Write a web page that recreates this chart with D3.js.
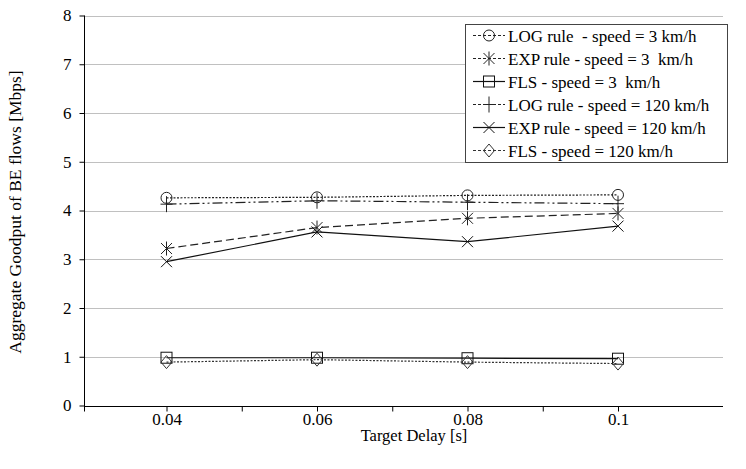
<!DOCTYPE html>
<html>
<head>
<meta charset="utf-8">
<title>Aggregate Goodput of BE flows</title>
<script src="https://cdn.jsdelivr.net/npm/d3@7"></script>
<style>
  body { margin: 0; background: #fff; }
  text { font-family: "Liberation Serif", "Times New Roman", serif; fill: #000; }
  .grid line { stroke: #c0c0c0; stroke-width: 1px; }
  .axis path, .axis line { stroke: #000; }
  .series { fill: none; }
</style>
</head>
<body>
<script>

// data
var delays = [0.04, 0.06, 0.08, 0.1];
var yTicks = [0, 1, 2, 3, 4, 5, 6, 7, 8];
var xTicks = [0.04, 0.05, 0.06, 0.07, 0.08, 0.09, 0.1];
var xLabels = [0.04, 0.06, 0.08, 0.1];

var logSlow = [4.26, 4.27, 4.31, 4.32];
var expSlow = [3.22, 3.65, 3.84, 3.94];
var flsSlow = [0.98, 0.98, 0.97, 0.96];
var logFast = [4.13, 4.2, 4.17, 4.14];
var expFast = [2.95, 3.56, 3.36, 3.68];
var flsFast = [0.89, 0.94, 0.89, 0.86];

var seriesNames = [
  "LOG rule  - speed = 3 km/h",
  "EXP rule - speed = 3  km/h",
  "FLS - speed = 3  km/h",
  "LOG rule - speed = 120 km/h",
  "EXP rule - speed = 120 km/h",
  "FLS - speed = 120 km/h"
];
var seriesValues = [logSlow, expSlow, flsSlow, logFast, expFast, flsFast];
var seriesMarks = ["circle", "asterisk", "square", "plus", "cross", "diamond"];
var seriesDash = ["2,1.5", "8,4", null, "10,3,2,3,2,3", null, "2,1.5"];
var seriesColor = ["#222", "#222", "#111", "#222", "#111", "#333"];

var width = 746, height = 469;
var plotL = 84, plotR = 723, plotT = 15.5, plotB = 405.5;

var svg = d3.select("body").append("svg")
    .attr("width", width)
    .attr("height", height);

var x = d3.scaleLinear().domain([0.04, 0.1]).range([166.5, 618]);
var y = d3.scaleLinear().domain([0, 8]).range([plotB, plotT]);

// horizontal grid
svg.append("g").attr("class", "grid")
  .selectAll("line")
  .data(yTicks.filter(function(d) { return d > 0; }))
  .join("line")
    .attr("x1", plotL).attr("x2", plotR)
    .attr("y1", function(d) { return Math.round(y(d)) + 0.5; })
    .attr("y2", function(d) { return Math.round(y(d)) + 0.5; });

// y axis
var yAxis = svg.append("g").attr("class", "axis")
    .attr("transform", "translate(" + (plotL + 0.5) + ",0)")
    .call(d3.axisLeft(y).tickValues(yTicks).tickSize(5).tickPadding(8).tickFormat(d3.format("d")));
yAxis.select(".domain").attr("d", "M0," + y(8) + "V" + (plotB + 6));
yAxis.selectAll("text").style("font-size", "17px");

// x axis
var xAxis = svg.append("g").attr("class", "axis")
    .attr("transform", "translate(0," + (Math.round(plotB) + 0.5) + ")")
    .call(d3.axisBottom(x).tickValues(xTicks).tickSize(5).tickPadding(1)
      .tickFormat(function(d) {
        return xLabels.some(function(v) { return Math.abs(v - d) < 1e-9; }) ? d3.format("")(+d.toFixed(2)) : "";
      }));
xAxis.select(".domain").attr("d", "M" + plotL + ",0H" + plotR);
xAxis.selectAll("text").style("font-size", "17px");

// axis titles
svg.append("text")
    .attr("x", 414)
    .attr("y", 441)
    .attr("text-anchor", "middle")
    .style("font-size", "16.5px")
    .text("Target Delay [s]");

svg.append("text")
    .attr("transform", "translate(21,212) rotate(-90)")
    .attr("text-anchor", "middle")
    .style("font-size", "17.5px")
    .text("Aggregate Goodput of BE flows [Mbps]");

// marker shapes
function marker(g, kind, color) {
  var s = 5.5;
  g.attr("stroke", color).attr("fill", "none").attr("stroke-width", 1);
  if (kind === "circle") g.append("circle").attr("r", s);
  else if (kind === "square") g.append("rect").attr("x", -s).attr("y", -s).attr("width", 2 * s).attr("height", 2 * s);
  else if (kind === "diamond") g.append("path").attr("d", "M0,-6.5L5.5,0L0,6.5L-5.5,0Z");
  else if (kind === "cross") g.append("path").attr("d", "M-5.5,-5.5L5.5,5.5M-5.5,5.5L5.5,-5.5");
  else if (kind === "plus") g.append("path").attr("d", "M0,-8V8M-6,0H6");
  else if (kind === "asterisk") g.append("path").attr("d", "M-5.5,-5.5L5.5,5.5M-5.5,5.5L5.5,-5.5M0,-7V7");
}

var line = d3.line()
    .x(function(d, i) { return x(delays[i]); })
    .y(function(d) { return y(d); });

seriesValues.forEach(function(vals, k) {
  svg.append("path")
      .attr("class", "series")
      .attr("d", line(vals))
      .attr("stroke", seriesColor[k])
      .attr("stroke-width", 1.2)
      .attr("stroke-dasharray", seriesDash[k]);
  svg.append("g").selectAll("g")
    .data(vals)
    .join("g")
      .attr("transform", function(d, i) { return "translate(" + x(delays[i]) + "," + y(d) + ")"; })
      .each(function() { marker(d3.select(this), seriesMarks[k], seriesColor[k]); });
});

// legend
var lgX = 465, lgY = 24, lgW = 262, rowH = 23;
var legend = svg.append("g");
legend.append("rect")
    .attr("x", lgX + 0.5).attr("y", lgY + 0.5)
    .attr("width", lgW).attr("height", rowH * 6)
    .attr("fill", "#fff").attr("stroke", "#444");

var rows = legend.selectAll("g.row")
  .data(seriesNames)
  .join("g")
    .attr("class", "row")
    .attr("transform", function(d, i) { return "translate(" + lgX + "," + (lgY + rowH * (i + 0.5)) + ")"; });

rows.append("line")
    .attr("x1", 8).attr("x2", 40).attr("y1", 0).attr("y2", 0)
    .attr("stroke", function(d, i) { return seriesColor[i]; })
    .attr("stroke-width", 1.2)
    .attr("stroke-dasharray", function(d, i) { return seriesDash[i] ? "3,2" : null; });
rows.append("g")
    .attr("transform", "translate(24,0)")
    .each(function(d, i) { marker(d3.select(this), seriesMarks[i], seriesColor[i]); });
rows.append("text")
    .attr("x", 43).attr("y", 6)
    .style("font-size", "17px")
    .style("white-space", "pre")
    .text(function(d) { return d; });

</script>
</body>
</html>
